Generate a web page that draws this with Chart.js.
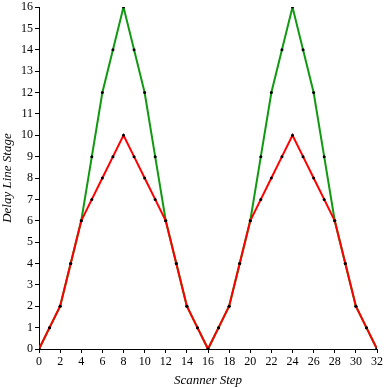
<!DOCTYPE html>
<html>
<head>
<meta charset="utf-8">
<script src="https://cdn.jsdelivr.net/npm/chart.js@4"></script>
<style>
  html, body { margin: 0; padding: 0; background: #fff; }
  #wrap { width: 385px; height: 388px; }
</style>
</head>
<body>
<div id="wrap"><canvas id="delayChart"></canvas></div>
<script>
const steps = [0,1,2,3,4,5,6,7,8,9,10,11,12,13,14,15,16,17,18,19,20,21,22,23,24,25,26,27,28,29,30,31,32];
const greenStage = [0,1,2,4,6,9,12,14,16,14,12,9,6,4,2,1,0,1,2,4,6,9,12,14,16,14,12,9,6,4,2,1,0];
const redStage = [0,1,2,4,6,7,8,9,10,9,8,7,6,4,2,1,0,1,2,4,6,7,8,9,10,9,8,7,6,4,2,1,0];

const toPoints = (ys) => steps.map((x, i) => ({ x: x, y: ys[i] }));
const serif = "'Liberation Serif', 'DejaVu Serif', serif";

// red is listed first so it is drawn on top of the green line
new Chart(document.getElementById("delayChart"), {
    type: "line",
    data: {
        datasets: [
            {
                data: toPoints(redStage),
                borderColor: "#ff0000",
                borderWidth: 2,
                pointRadius: 1.5,
                pointBackgroundColor: "#000",
                pointBorderWidth: 0,
                tension: 0
            },
            {
                data: toPoints(greenStage),
                borderColor: "#119911",
                borderWidth: 2,
                pointRadius: 1.5,
                pointBackgroundColor: "#000",
                pointBorderWidth: 0,
                tension: 0
            }
        ]
    },
    options: {
        responsive: true,
        maintainAspectRatio: false,
        animation: false,
        layout: { padding: { top: 0, right: 6, left: 0, bottom: 0 } },
        plugins: { legend: { display: false }, tooltip: { enabled: false } },
        scales: {
            x: {
                type: "linear",
                min: 0, max: 32,
                ticks: { stepSize: 2, color: "#000", padding: 2, font: { family: serif, size: 12 } },
                grid: { drawOnChartArea: false, tickLength: 4, color: "#000" },
                border: { color: "#000" },
                title: { display: true, text: "Scanner Step", color: "#000", padding: 0,
                         font: { family: serif, size: 13, style: "italic" } },
                afterFit: (s) => { s.height = 39; }
            },
            y: {
                min: 0, max: 16,
                ticks: { stepSize: 1, color: "#000", padding: 2, font: { family: serif, size: 12, lineHeight: 0.85 } },
                grid: { drawOnChartArea: false, tickLength: 4, color: "#000" },
                border: { color: "#000" },
                title: { display: true, text: "Delay Line Stage", color: "#000", padding: 0,
                         font: { family: serif, size: 13, style: "italic" } },
                afterFit: (s) => { s.width = 39; }
            }
        }
    }
});
</script>
</body>
</html>
